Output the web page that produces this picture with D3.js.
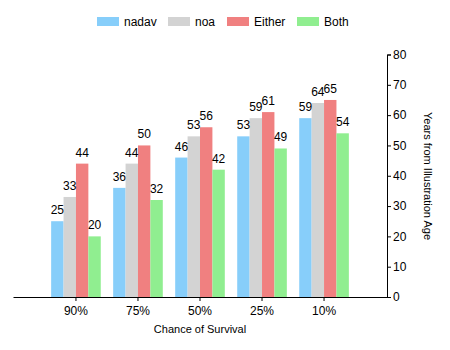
<!DOCTYPE html>
<html>
<head>
<meta charset="utf-8">
<script src="https://cdn.jsdelivr.net/npm/d3@7"></script>
<style>
  body { margin: 0; background: #fff; }
  svg { display: block; font-family: "Liberation Sans", Arial, sans-serif; }
</style>
</head>
<body>
<div id="chart"></div>
<script>
// categories and series
var categories = ["90%", "75%", "50%", "25%", "10%"];
var seriesNames = ["nadav", "noa", "Either", "Both"];
var nadav = [25, 36, 46, 53, 59];
var noa = [33, 44, 53, 59, 64];
var either = [44, 50, 56, 61, 65];
var both = [20, 32, 42, 49, 54];
var yTicks = [0, 10, 20, 30, 40, 50, 60, 70, 80];

var colors = ["#87CEFA", "#D3D3D3", "#F08080", "#90EE90"];
var seriesValues = [nadav, noa, either, both];

var width = 450, height = 350;

var svg = d3.select("#chart")
    .append("svg")
    .attr("width", width)
    .attr("height", height);

// rows for drawing: one per category
var rows = categories.map(function(c, i) {
    return {cat: c, values: seriesNames.map(function(s, j) {
        return {name: s, value: seriesValues[j][i], color: colors[j]};
    })};
});

// scales
var x0 = d3.scaleBand()
    .domain(categories)
    .range([13, 387])
    .paddingInner(0.2)
    .paddingOuter(0.615);

var x1 = d3.scaleBand()
    .domain(seriesNames)
    .range([0, x0.bandwidth()]);

var y = d3.scaleLinear()
    .domain([0, 80])
    .range([297, 54.5]);

// bars
var groups = svg.selectAll(".grp")
    .data(rows)
    .enter()
    .append("g")
    .attr("transform", function(d) { return "translate(" + x0(d.cat) + ",0)"; });

groups.selectAll("rect")
    .data(function(d) { return d.values; })
    .enter()
    .append("rect")
    .attr("x", function(d) { return x1(d.name); })
    .attr("y", function(d) { return y(d.value); })
    .attr("width", x1.bandwidth())
    .attr("height", function(d) { return y(0) - y(d.value); })
    .attr("fill", function(d) { return d.color; });

// value labels
groups.selectAll("text")
    .data(function(d) { return d.values; })
    .enter()
    .append("text")
    .attr("x", function(d) { return x1(d.name) + x1.bandwidth() / 2; })
    .attr("y", function(d) { return y(d.value) - 7; })
    .attr("text-anchor", "middle")
    .style("font-size", "12px")
    .text(function(d) { return d.value; });

// x axis
var xAxis = svg.append("g")
    .attr("transform", "translate(0,297)")
    .call(d3.axisBottom(x0).tickSize(4).tickSizeOuter(0));
xAxis.select(".domain").attr("stroke", "#000");
xAxis.selectAll("text").style("font-size", "12px").attr("dy", "0.9em");

svg.append("text")
    .attr("x", 200)
    .attr("y", 333)
    .attr("text-anchor", "middle")
    .style("font-size", "11px")
    .text("Chance of Survival");

// y axis on the right
var yAxis = svg.append("g")
    .attr("transform", "translate(387,0)")
    .call(d3.axisRight(y).tickValues(yTicks).tickSize(4).tickSizeOuter(4).tickPadding(2));
yAxis.selectAll("text").style("font-size", "12px");

svg.append("text")
    .attr("transform", "translate(424,176) rotate(90)")
    .attr("text-anchor", "middle")
    .style("font-size", "11px")
    .text("Years from Illustration Age");

// legend
var legendX = [97, 168, 227, 297];
var legend = svg.selectAll(".legend")
    .data(seriesNames)
    .enter()
    .append("g")
    .attr("transform", function(d, i) { return "translate(" + legendX[i] + ",17)"; });

legend.append("rect")
    .attr("width", 22)
    .attr("height", 9)
    .attr("fill", function(d, i) { return colors[i]; });

legend.append("text")
    .attr("x", 27)
    .attr("y", 9)
    .style("font-size", "12px")
    .text(function(d) { return d; });
</script>
</body>
</html>
